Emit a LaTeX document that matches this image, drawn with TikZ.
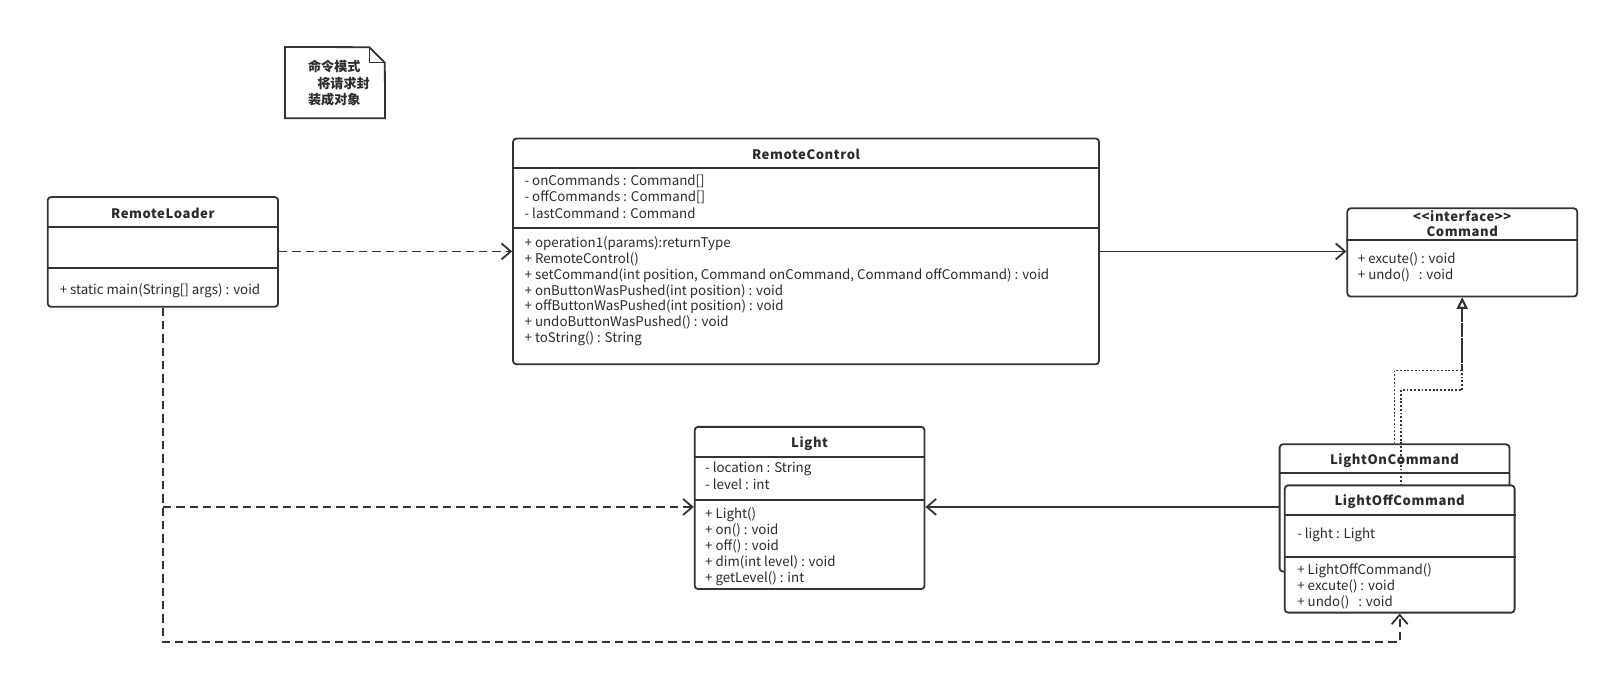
\documentclass[tikz,border=0pt]{standalone}
\usepackage{fontspec}
\setmainfont{Noto Sans CJK SC}
\newfontfamily\ttlfont{Noto Sans CJK SC}[LetterSpace=4.5]
\usetikzlibrary{arrows.meta,fit}
\definecolor{lc}{HTML}{333333}
\definecolor{tc}{HTML}{2B2B2B}
\tikzset{
  cls/.style={draw=lc, line width=1.35pt, rounded corners=2.5pt, inner sep=0pt, fill=white},
  sepl/.style={draw=lc, line width=1.35pt},
  txt/.style={font=\fontsize{10}{12}\selectfont, text=tc, inner sep=0pt, text height=7pt, text depth=2pt, yshift=-2pt},
  ttl/.style={font=\fontsize{9.8}{12}\ttlfont\bfseries, text=tc, inner sep=0pt, text height=7pt, text depth=2pt, yshift=-2pt},
  notetxt/.style={font=\bfseries, text=tc, inner sep=0pt, anchor=west},
  depl/.style={draw=lc, line width=1.35pt, dash pattern=on 6.2pt off 3.8pt, -{Straight Barb[length=7pt,width=12pt]}},
  assocl/.style={draw=lc, line width=1.35pt, -{Straight Barb[length=7pt,width=12pt]}},
  reall/.style={draw=lc, line width=1.35pt, dash pattern=on 1.4pt off 1.4pt, -{Triangle[open,length=8.5pt,width=8pt]}},
}
\newcommand{\umllines}[4]{%
  \foreach \t [count=\i from 0] in {#4} {\node[txt, anchor=west] at (#1,{#2+\i*#3}) {\t};}}
\newcommand{\notew}[1]{\resizebox{39.25pt}{!}{#1}}
\begin{document}
\begin{tikzpicture}[x=0.7696pt, y=-0.7696pt]
\useasboundingbox (0,0) rectangle (1568,658);

% note
\node[fit={(278,46) (375,115)}, inner sep=0pt] (note) {};
\draw[lc, line width=1.35pt, fill=white] (note.north west) -- (360,46) -- (375,61) -- (note.south east) -- (note.south west) -- cycle;
\draw[lc, line width=1.35pt] (360,46) -- (360,61) -- (375,61);
\node[notetxt] (n1) at (300,65) {\notew{命令模式}};
\node[notetxt] (n2) at (309,81) {\notew{将请求封}};
\node[notetxt] (n3) at (300,97) {\notew{装成对象}};

% RemoteLoader
\node[cls, fit={(46.5,192) (271,299)}] (rl) {};
\draw[sepl] (rl.west |- 0,221) -- (rl.east |- 0,221);
\draw[sepl] (rl.west |- 0,261) -- (rl.east |- 0,261);
\node[ttl] (rlt) at (158.75,207) {RemoteLoader};
\umllines{58}{281}{16}{+ static main(String[] args) : void}

% RemoteControl
\node[cls, fit={(500,135) (1071,355)}] (rc) {};
\draw[sepl] (rc.west |- 0,164) -- (rc.east |- 0,164);
\draw[sepl] (rc.west |- 0,222) -- (rc.east |- 0,222);
\node[ttl] (rct) at (785.5,150) {RemoteControl};
\umllines{511}{175}{16}{- onCommands : Command[], - offCommands : Command[], - lastCommand : Command}
\umllines{511}{235}{15.55}{+ operation1(params):returnType, + RemoteControl(), {+ setCommand(int position, Command onCommand, Command offCommand) : void}, + onButtonWasPushed(int position) : void, + offButtonWasPushed(int position) : void, + undoButtonWasPushed() : void, + toString() : String}

% Command
\node[cls, fit={(1313,203) (1537,289)}] (cmd) {};
\draw[sepl] (cmd.west |- 0,234) -- (cmd.east |- 0,234);
\node[ttl] (cmdt1) at (1425,210) {<{}<interface>{}>};
\node[ttl] (cmdt2) at (1425,225) {Command};
\umllines{1323}{251}{16}{+ excute() : void, + undo()\ \ \ : void}

% Light
\node[cls, fit={(677,416) (901,574)}] (light) {};
\draw[sepl] (light.west |- 0,445) -- (light.east |- 0,445);
\draw[sepl] (light.west |- 0,487) -- (light.east |- 0,487);
\node[ttl] (lightt) at (789,430) {Light};
\umllines{687}{455}{16}{- location : String, - level : int}
\umllines{687}{499}{15.7}{+ Light(), + on() : void, + off() : void, + dim(int level) : void, + getLevel() : int}

% LightOnCommand
\node[cls, fit={(1247,433) (1471,557)}] (lon) {};
\draw[sepl] (lon.west |- 0,461) -- (lon.east |- 0,461);
\node[ttl] (lont) at (1359,447) {LightOnCommand};
\draw[reall] (lon.north) -- (lon.north |- 0,361) -| (cmd.south);
\draw[reall] ([xshift=5]lon.north |- 0,473) -- ([xshift=5]lon.north |- 0,380) -| (cmd.south);

% LightOffCommand
\node[cls, fit={(1252,473) (1476,597)}] (loff) {};
\draw[sepl] (loff.west |- 0,502) -- (loff.east |- 0,502);
\draw[sepl] (loff.west |- 0,543) -- (loff.east |- 0,543);
\node[ttl] (lofft) at (1364,487) {LightOffCommand};
\umllines{1264}{519}{16}{- light : Light}
\umllines{1264}{554}{15.5}{+ LightOffCommand(), + excute() : void, + undo()\ \ \ : void}

% connectors
\draw[depl] (rl.east |- 0,245) -- (rc.west |- 0,245);
\draw[assocl] (rc.east |- 0,245) -- (cmd.west |- 0,245);
\draw[depl] (rl.south) -- (rl.south |- 0,626) -| (loff.south);
\draw[depl] (rl.south |- 0,494) -- (light.west |- 0,494);
\draw[assocl] (lon.west |- 0,494) -- (light.east |- 0,494);
\end{tikzpicture}
\end{document}
